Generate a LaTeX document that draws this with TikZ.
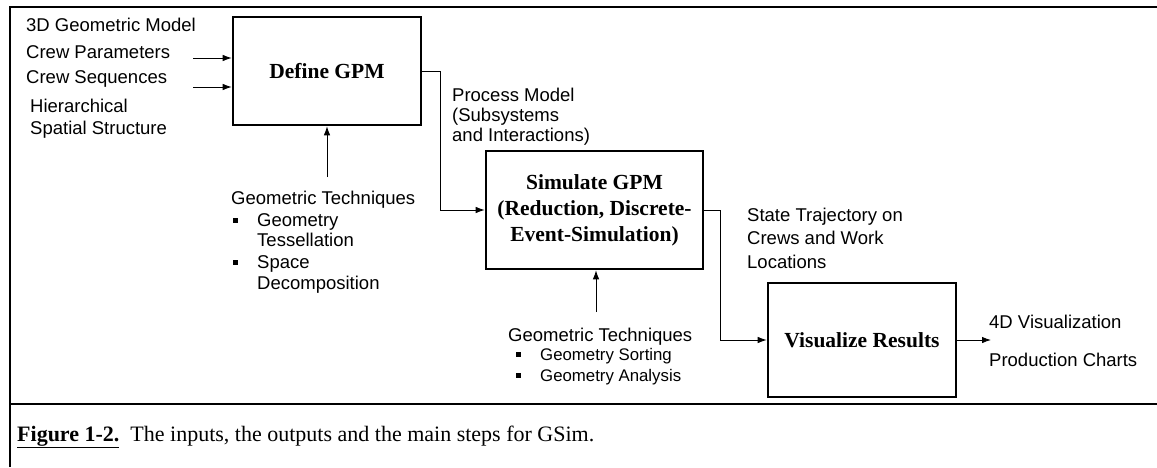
\documentclass[tikz,border=0pt]{standalone}
\usepackage{fontspec}
\setmainfont{Liberation Serif}
\newfontfamily\arialf{Liberation Sans}
\usetikzlibrary{arrows.meta}
\begin{document}
\begin{tikzpicture}[x=1pt,y=-1pt,
  lbl/.style={anchor=base west,inner sep=0pt,font=\arialf\fontsize{18.5}{20}\selectfont},
  slbl/.style={anchor=base west,inner sep=0pt,font=\arialf\fontsize{16.8}{18}\selectfont},
  proc/.style={draw,line width=2.6pt,inner sep=0pt,align=center,font=\bfseries\fontsize{21.5}{26}\selectfont},
  conn/.style={line width=0.9pt,-{Latex[length=9pt,width=6.5pt]}},
  frameline/.style={line width=2pt},
  bul/.style={fill,minimum size=5pt,inner sep=0pt}]
\useasboundingbox (0,0) rectangle (1157,467);
% frame
\draw[frameline] (10,467) -- (10,7) -- (1157,7);
\draw[frameline] (10,404) -- (1157,404);
% boxes
\node[proc,minimum width=188pt,minimum height=108pt] (define) at (327,71) {Define GPM};
\node[proc,minimum width=217pt,minimum height=118pt] (simulate) at (594.5,210) {Simulate GPM\\(Reduction, Discrete-\\Event-Simulation)};
\node[proc,minimum width=188pt,minimum height=114pt] (visualize) at (862,340) {Visualize Results};
% inputs
\node[lbl] (t3d) at (26,31) {3D Geometric Model};
\node[lbl] (tcp) at (26,58) {Crew Parameters};
\node[lbl] (tcs) at (26,83) {Crew Sequences};
\node[lbl] (thi) at (30,112) {Hierarchical};
\node[lbl] (tss) at (30,134) {Spatial Structure};
\coordinate (i1) at (193,58);
\coordinate (i2) at (193,87);
\draw[conn] (i1) -- (i1 -| define.west);
\draw[conn] (i2) -- (i2 -| define.west);
% geometric techniques 1
\node[lbl] (gt1) at (231,204) {Geometric Techniques};
\node[bul] (b11) at (235.5,220) {};
\node[lbl] (g11) at (257,226) {Geometry};
\node[lbl] (g12) at (257,246) {Tessellation};
\node[bul] (b12) at (235.5,262) {};
\node[lbl] (g13) at (257,268) {Space};
\node[lbl] (g14) at (257,289) {Decomposition};
\coordinate (u1) at (327,177);
\draw[conn] (u1) -- (define.south);
% process model
\node[lbl] (pm1) at (452,101) {Process Model};
\node[lbl] (pm2) at (452,121) {(Subsystems};
\node[lbl] (pm3) at (452,141) {and Interactions)};
\draw[conn] (define.east) -- ++(18,0) |- (simulate.west);
% geometric techniques 2
\node[lbl] (gt2) at (508,341) {Geometric Techniques};
\node[bul] (b21) at (518,354) {};
\node[slbl] (g21) at (540,360) {Geometry Sorting};
\node[bul] (b22) at (518,375) {};
\node[slbl] (g22) at (540,381) {Geometry Analysis};
\coordinate (u2) at (596,312);
\draw[conn] (u2) -- (u2 |- simulate.south);
% state trajectory
\node[lbl] (st1) at (747,221) {State Trajectory on};
\node[lbl] (st2) at (747,244) {Crews and Work};
\node[lbl] (st3) at (747,268) {Locations};
\draw[conn] (simulate.east) -- ++(16,0) |- (visualize.west);
% outputs
\coordinate (o) at (991,340);
\draw[conn] (visualize.east) -- (o);
\node[lbl] (o1) at (989,328) {4D Visualization};
\node[lbl] (o2) at (989,366) {Production Charts};
% caption
\node[anchor=base west,inner sep=0pt,font=\fontsize{22}{26}\selectfont] (cap) at (17,441) {\textbf{\underline{Figure 1-2.}}\ \ The inputs, the outputs and the main steps for GSim.};
\end{tikzpicture}
\end{document}
